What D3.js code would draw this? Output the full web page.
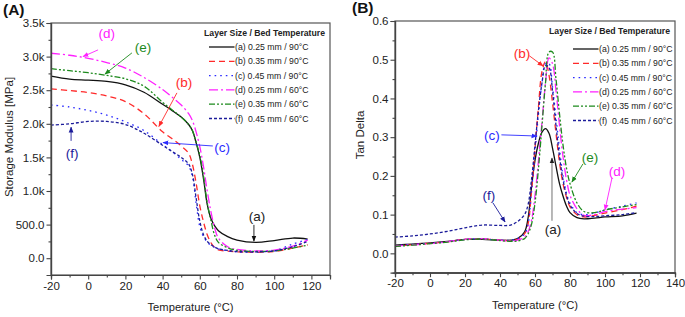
<!DOCTYPE html>
<html>
<head>
<meta charset="utf-8">
<script src="https://cdn.jsdelivr.net/npm/d3@7"></script>
<style>
  body { margin: 0; background: #fff; }
  svg { font-family: "Liberation Sans", Arial, sans-serif; }
</style>
</head>
<body>
<svg id="chart" width="685" height="317"></svg>
<script>
// ---- values ----
const seriesNames = ['(a) 0.25 mm / 90°C', '(b) 0.35 mm / 90°C', '(c) 0.45 mm / 90°C',
                     '(d) 0.25 mm / 60°C', '(e) 0.35 mm / 60°C', '(f)\u00a0 0.45 mm / 60°C'];
const legendTitle = 'Layer Size / Bed Temperature';

// (A) storage modulus [MPa] vs temperature
const tempA = [-20, -10, 0, 10, 20, 30, 40, 45, 50, 54, 56, 58, 60, 62, 64, 66, 68, 70, 75, 80, 90, 100, 110, 118];
const storageA = [2710, 2665, 2650, 2630, 2580, 2470, 2290, 2200, 2100, 1990, 1900, 1720, 1500, 1180, 800, 590, 480, 410, 320, 270, 235, 262, 300, 285];
const storageB = [2520, 2495, 2465, 2415, 2330, 2150, 1880, 1780, 1670, 1560, 1400, 1120, 780, 540, 350, 230, 160, 125, 105, 95, 88, 100, 150, 200];
const storageC = [2280, 2250, 2200, 2130, 2030, 1900, 1690, 1590, 1470, 1370, 1220, 820, 470, 320, 240, 190, 160, 140, 110, 95, 90, 110, 210, 280];
const storageD = [3050, 3020, 2975, 2910, 2830, 2690, 2510, 2400, 2280, 2150, 2050, 1880, 1660, 1360, 1000, 690, 450, 300, 170, 130, 110, 120, 180, 270];
const storageE = [2820, 2790, 2760, 2720, 2670, 2560, 2320, 2210, 2100, 1990, 1900, 1730, 1530, 1220, 820, 560, 340, 235, 155, 118, 100, 108, 150, 195];
const storageF = [1980, 2000, 2035, 2035, 1990, 1860, 1680, 1590, 1500, 1400, 1250, 900, 550, 350, 250, 200, 165, 140, 115, 100, 95, 110, 170, 250];

// (B) tan delta vs temperature
const tempB = [-20, -10, 0, 10, 20, 30, 40, 46, 50, 54, 56, 58, 60, 62, 64, 66, 68, 70, 72, 74, 76, 78, 80, 84, 88, 94, 100, 110, 118];
const tanA = [.021, .024, .027, .031, .036, .036, .034, .034, .038, .055, .09, .17, .24, .285, .313, .322, .31, .272, .225, .18, .148, .122, .105, .092, .089, .091, .094, .097, .104];
const tanB = [.019, .022, .026, .030, .036, .037, .034, .033, .036, .05, .075, .16, .27, .38, .47, .495, .46, .39, .31, .235, .18, .145, .12, .1, .094, .098, .104, .113, .122];
const tanC = [.020, .023, .026, .030, .036, .037, .034, .034, .038, .05, .075, .16, .26, .36, .44, .49, .49, .43, .35, .27, .2, .155, .13, .105, .1, .104, .112, .122, .13];
const tanD = [.019, .022, .025, .030, .036, .038, .034, .032, .034, .042, .055, .085, .15, .24, .34, .44, .505, .49, .42, .33, .25, .19, .15, .115, .098, .1, .108, .114, .118];
const tanE = [.018, .021, .025, .029, .035, .037, .033, .031, .032, .038, .05, .075, .13, .22, .33, .44, .52, .52, .45, .36, .28, .22, .18, .13, .108, .105, .112, .12, .126];
const tanF = [.042, .045, .05, .057, .066, .073, .072, .073, .082, .1, .125, .19, .28, .37, .44, .485, .48, .42, .33, .25, .19, .15, .125, .103, .096, .095, .097, .1, .105];

// ---- styles ----
const colors = ['#111111', '#ff2a2a', '#2b2bff', '#ff20ff', '#1d8a1d', '#1c1c9a'];
const dashes = [null, '6,4', '1.6,4', '9,3,2,3', '6,2,2,2,2,2', '3,2'];

const svg = d3.select('#chart');
const defs = svg.append('defs');
colors.concat(['#222']).forEach((c, i) => {
    defs.append('marker')
        .attr('id', 'head' + i)
        .attr('viewBox', '0 0 10 10')
        .attr('refX', 9).attr('refY', 5)
        .attr('markerWidth', 6).attr('markerHeight', 6)
        .attr('markerUnits', 'userSpaceOnUse')
        .attr('orient', 'auto')
        .append('path')
        .attr('d', 'M0,1L10,5L0,9Z')
        .attr('fill', c);
});

const panels = [
    {
        tag: '(A)', tagX: 3, tagY: 15,
        left: 51, right: 330, top: 23, bottom: 275,
        xDomain: [-20, 130], yDomain: [-250, 3500],
        xMajor: d3.range(-20, 121, 20), xMinor: d3.range(-10, 130, 20),
        yMajor: d3.range(0, 3501, 500), yMinor: d3.range(250, 3500, 500),
        yFormat: d => d === 0 ? '0.0' : d < 1000 ? d.toFixed(1) : (d / 1000).toFixed(1) + 'k',
        yTitle: 'Storage Modulus [MPa]', yTitleX: 13, yTitleY: 137,
        xTitleY: 311,
        temps: tempA,
        series: [storageA, storageB, storageC, storageD, storageE, storageF],
        legendX: 204, legendY: 36, lineX: 209, rowY: 47,
        notes: [
            { i: 3, text: '(d)', at: [10, 3353], from: [5.3, 3100], to: [-2.8, 3000] },
            { i: 4, text: '(e)', at: [29.5, 3144], from: [23.5, 3055], to: [9, 2740] },
            { i: 1, text: '(b)', at: [51.5, 2624], from: [47.7, 2460], to: [38, 1960] },
            { i: 2, text: '(c)', at: [72, 1656], from: [67, 1670], to: [40.2, 1720] },
            { i: 5, text: '(f)', at: [-8.7, 1567], from: [-9.2, 1746], to: [-9.2, 1950] },
            { i: 0, text: '(a)', at: [90.8, 630], from: [89.1, 496], to: [89.1, 255] }
        ]
    },
    {
        tag: '(B)', tagX: 352, tagY: 13,
        left: 395, right: 675, top: 21, bottom: 272.7,
        xDomain: [-20, 140], yDomain: [-0.05, 0.6],
        xMajor: d3.range(-20, 141, 20), xMinor: d3.range(-10, 140, 20),
        yMajor: d3.range(0, 0.61, 0.1), yMinor: d3.range(0.05, 0.6, 0.1),
        yFormat: d => d.toFixed(1),
        yTitle: 'Tan Delta', yTitleX: 364, yTitleY: 135,
        xTitleY: 309,
        temps: tempB,
        series: [tanA, tanB, tanC, tanD, tanE, tanF],
        legendX: 549, legendY: 34, lineX: 573, rowY: 49,
        notes: [
            { i: 1, text: '(b)', at: [52.6, 0.518], from: [56.8, 0.51], to: [64.6, 0.484] },
            { i: 2, text: '(c)', at: [35.4, 0.306], from: [40.8, 0.306], to: [61.1, 0.303] },
            { i: 4, text: '(e)', at: [91.4, 0.249], from: [87.4, 0.231], to: [81.1, 0.184] },
            { i: 3, text: '(d)', at: [106.9, 0.213], from: [104, 0.195], to: [100, 0.112] },
            { i: 5, text: '(f)', at: [33.7, 0.151], from: [36, 0.13], to: [42.9, 0.081] },
            { i: 0, text: '(a)', at: [70.3, 0.063], from: [69.7, 0.084], to: [69.7, 0.246], grey: true }
        ]
    }
];

panels.forEach(drawPanel);

function drawPanel(p) {
    const x = d3.scaleLinear().domain(p.xDomain).range([p.left, p.right]);
    const y = d3.scaleLinear().domain(p.yDomain).range([p.bottom, p.top]);
    const g = svg.append('g');

    // panel tag
    g.append('text')
        .attr('x', p.tagX).attr('y', p.tagY)
        .attr('font-size', 15.5).attr('font-weight', 'bold')
        .attr('fill', '#111')
        .text(p.tag);

    // curves
    const line = d3.line()
        .x(d => x(d[0]))
        .y(d => y(d[1]))
        .curve(d3.curveCatmullRom.alpha(0.5));

    p.series.forEach((vals, i) => {
        g.append('path')
            .datum(p.temps.map((t, j) => [t, vals[j]]))
            .attr('d', line)
            .attr('fill', 'none')
            .attr('stroke', colors[i])
            .attr('stroke-width', 1.3)
            .attr('stroke-dasharray', dashes[i]);
    });

    // frame (top / right lines)
    g.append('rect')
        .attr('x', p.left).attr('y', p.top)
        .attr('width', p.right - p.left).attr('height', p.bottom - p.top)
        .attr('fill', 'none')
        .attr('stroke', '#555')
        .attr('stroke-width', 1.2);

    // axes
    const xAxis = d3.axisBottom(x).tickValues(p.xMajor).tickSize(4.5).tickPadding(2).tickFormat(d => String(d));
    const xMinorAxis = d3.axisBottom(x).tickValues(p.xMinor).tickSize(2.5).tickFormat('');
    const yAxis = d3.axisLeft(y).tickValues(p.yMajor).tickSize(4.5).tickPadding(2).tickFormat(p.yFormat);
    const yMinorAxis = d3.axisLeft(y).tickValues(p.yMinor).tickSize(2.5).tickFormat('');

    [[xAxis, 'x'], [xMinorAxis, 'x'], [yAxis, 'y'], [yMinorAxis, 'y']].forEach(([ax, dir]) => {
        const a = g.append('g')
            .attr('transform', dir === 'x' ? `translate(0,${p.bottom})` : `translate(${p.left},0)`)
            .call(ax);
        a.select('.domain').attr('stroke', '#444').attr('stroke-width', 1.2);
        a.selectAll('line').attr('stroke', '#444').attr('stroke-width', 1.1);
        a.selectAll('text')
            .attr('font-size', 11.5)
            .attr('font-family', '"Liberation Sans", Arial, sans-serif')
            .attr('fill', '#222');
    });

    // axis titles
    g.append('text')
        .attr('x', (p.left + p.right) / 2).attr('y', p.xTitleY)
        .attr('text-anchor', 'middle')
        .attr('font-size', 11.2).attr('fill', '#222')
        .text('Temperature (°C)');

    g.append('text')
        .attr('transform', `translate(${p.yTitleX},${p.yTitleY}) rotate(-90)`)
        .attr('text-anchor', 'middle')
        .attr('font-size', 11.5).attr('fill', '#222')
        .text(p.yTitle);

    // annotations
    p.notes.forEach(n => {
        g.append('line')
            .attr('x1', x(n.from[0])).attr('y1', y(n.from[1]))
            .attr('x2', x(n.to[0])).attr('y2', y(n.to[1]))
            .attr('stroke', n.grey ? '#9a9a9a' : colors[n.i])
            .attr('stroke-width', n.grey ? 1.4 : 0.9)
            .attr('marker-end', `url(#head${n.grey ? 6 : n.i})`);
        g.append('text')
            .attr('x', x(n.at[0])).attr('y', y(n.at[1]))
            .attr('dy', '0.36em')
            .attr('text-anchor', 'middle')
            .attr('font-size', 13.5)
            .attr('fill', n.i === 0 ? '#222' : colors[n.i])
            .text(n.text);
    });

    // legend
    const lg = g.append('g');
    lg.append('text')
        .attr('x', p.legendX).attr('y', p.legendY)
        .attr('font-size', 8.7).attr('font-weight', 'bold')
        .attr('fill', '#222')
        .text(legendTitle);

    seriesNames.forEach((name, i) => {
        const ry = p.rowY + i * 14.3;
        lg.append('line')
            .attr('x1', p.lineX).attr('x2', p.lineX + 25.5)
            .attr('y1', ry).attr('y2', ry)
            .attr('stroke', colors[i])
            .attr('stroke-width', 1.3)
            .attr('stroke-dasharray', dashes[i]);
        lg.append('text')
            .attr('x', p.lineX + 26).attr('y', ry)
            .attr('dy', '0.35em')
            .attr('font-size', 8.7)
            .attr('fill', '#222')
            .text(name);
    });
}
</script>
</body>
</html>
